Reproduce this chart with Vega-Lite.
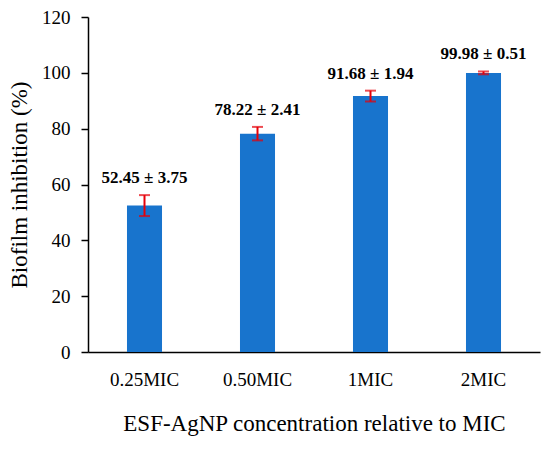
{
  "$schema": "https://vega.github.io/schema/vega-lite/v6.json",
  "width": 452,
  "height": 335,
  "autosize": "none",
  "padding": {"left": 88, "top": 17, "right": 10, "bottom": 97},
  "background": "white",
  "config": {
    "view": {"stroke": null},
    "font": "Liberation Serif",
    "axis": {
      "grid": false,
      "domainColor": "black",
      "domainWidth": 1.5,
      "tickColor": "black",
      "tickWidth": 1.5,
      "labelColor": "black",
      "titleColor": "black",
      "labelFont": "Liberation Serif",
      "titleFont": "Liberation Serif",
      "labelFontSize": 19,
      "titleFontSize": 23,
      "titleFontWeight": "normal"
    }
  },
  "data": {
    "values": [
      {"group": "0.25MIC", "mean": 52.45, "sd": 3.75, "lo": 48.7, "hi": 56.2, "label": "52.45 ± 3.75"},
      {"group": "0.50MIC", "mean": 78.22, "sd": 2.41, "lo": 75.81, "hi": 80.63, "label": "78.22 ± 2.41"},
      {"group": "1MIC", "mean": 91.68, "sd": 1.94, "lo": 89.74, "hi": 93.62, "label": "91.68 ± 1.94"},
      {"group": "2MIC", "mean": 99.98, "sd": 0.51, "lo": 99.47, "hi": 100.49, "label": "99.98 ± 0.51"}
    ]
  },
  "encoding": {
    "x": {
      "field": "group",
      "type": "nominal",
      "sort": null,
      "scale": {"paddingInner": 0.69, "paddingOuter": 0.345},
      "axis": {
        "title": "ESF-AgNP concentration relative to MIC",
        "labelAngle": 0,
        "ticks": false,
        "labelPadding": 18,
        "titlePadding": 23
      }
    }
  },
  "layer": [
    {
      "mark": {"type": "bar", "color": "#1874cd"},
      "encoding": {
        "y": {
          "field": "mean",
          "type": "quantitative",
          "scale": {"domain": [0, 120]},
          "axis": {
            "title": "Biofilm inhibition (%)",
            "values": [0, 20, 40, 60, 80, 100, 120],
            "tickSize": 7,
            "labelPadding": 11,
            "titlePadding": 10
          }
        }
      }
    },
    {
      "mark": {"type": "rule", "color": "#e60008", "strokeWidth": 2},
      "encoding": {
        "y": {"field": "lo", "type": "quantitative"},
        "y2": {"field": "hi"}
      }
    },
    {
      "mark": {"type": "tick", "color": "#e60008", "thickness": 2, "size": 11, "orient": "horizontal"},
      "encoding": {
        "y": {"field": "lo", "type": "quantitative"}
      }
    },
    {
      "mark": {"type": "tick", "color": "#e60008", "thickness": 2, "size": 11, "orient": "horizontal"},
      "encoding": {
        "y": {"field": "hi", "type": "quantitative"}
      }
    },
    {
      "mark": {"type": "text", "fontWeight": "bold", "fontSize": 17, "baseline": "alphabetic", "dy": -12, "color": "black"},
      "encoding": {
        "y": {"field": "hi", "type": "quantitative"},
        "text": {"field": "label"}
      }
    }
  ]
}
